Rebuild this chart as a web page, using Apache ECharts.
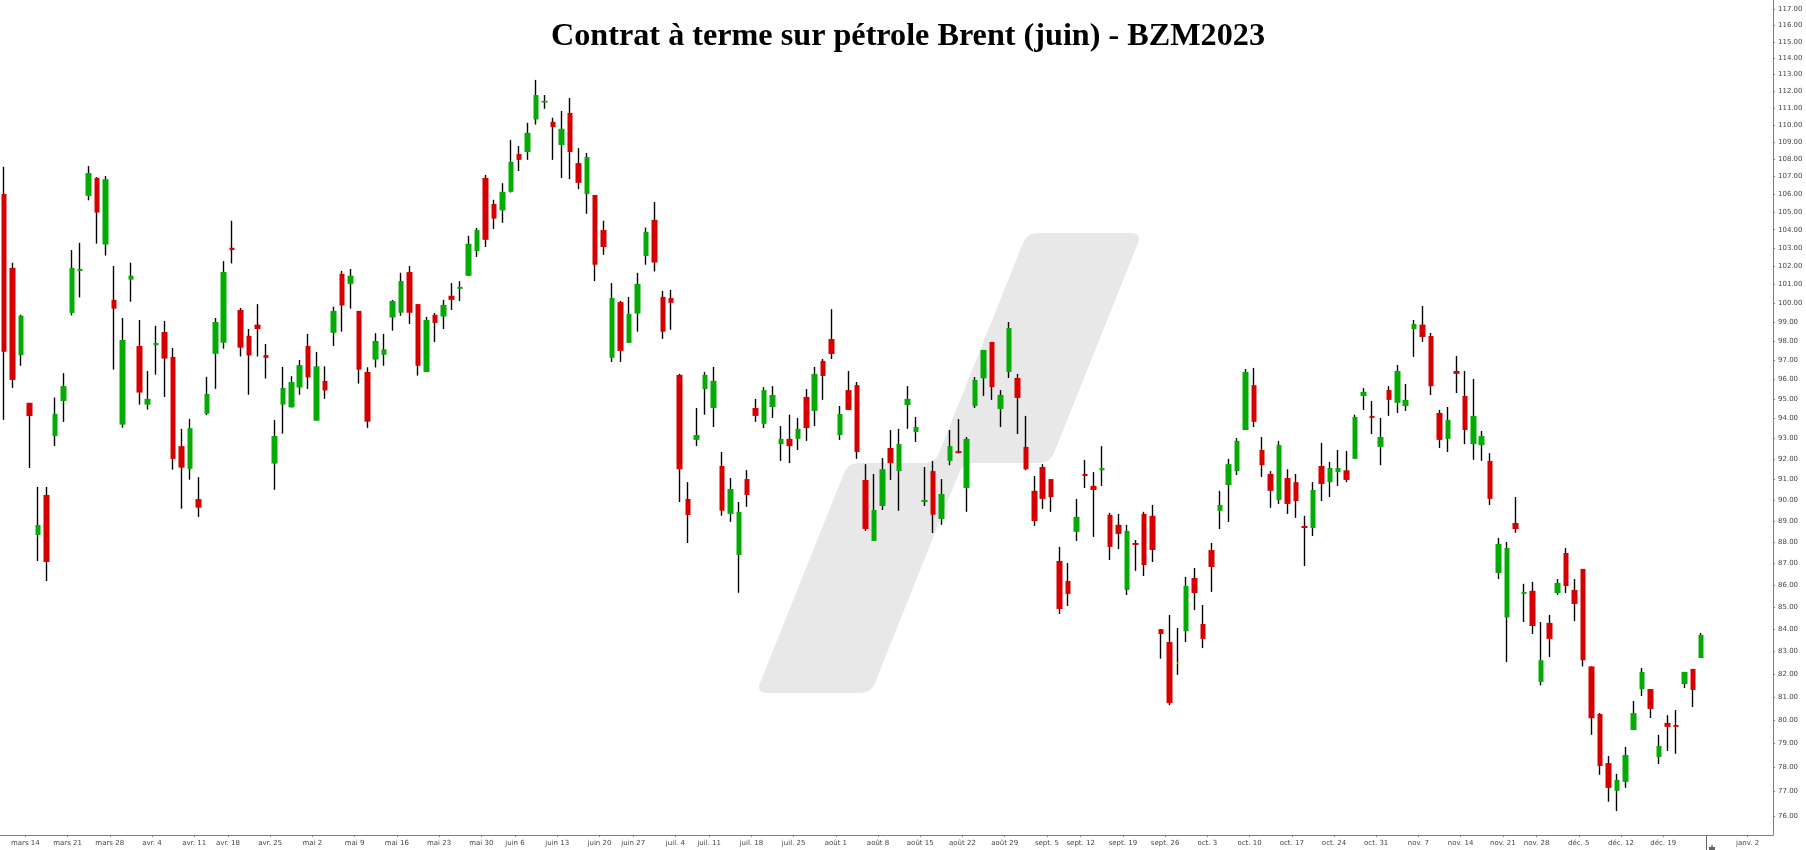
<!DOCTYPE html>
<html>
<head>
<meta charset="utf-8">
<style>html,body{margin:0;padding:0;background:#fff}#c{width:1806px;height:850px}</style>
<script src="https://cdn.jsdelivr.net/npm/echarts@6/dist/echarts.min.js"></script>
</head>
<body>
<div id="c"></div>
<script>
const titleText = 'Contrat à terme sur pétrole Brent (juin) - BZM2023';
const bandCount = 210;
const tickIndexes = [3,8,13,18,23,27,32,37,42,47,52,57,61,66,71,75,80,84,89,94,99,104,109,114,119,124,128,133,138,143,148,153,158,163,168,173,178,182,187,192,197,207];
const tickLabels = ['mars 14','mars 21','mars 28','avr. 4','avr. 11','avr. 18','avr. 25','mai 2','mai 9','mai 16','mai 23','mai 30','juin 6','juin 13','juin 20','juin 27','juil. 4','juil. 11','juil. 18','juil. 25','août 1','août 8','août 15','août 22','août 29','sept. 5','sept. 12','sept. 19','sept. 26','oct. 3','oct. 10','oct. 17','oct. 24','oct. 31','nov. 7','nov. 14','nov. 21','nov. 28','déc. 5','déc. 12','déc. 19','janv. 2'];
const priceTicks = [76,77,78,79,80,81,82,83,84,85,86,87,88,89,90,91,92,93,94,95,96,97,98,99,100,101,102,103,104,105,106,107,108,109,110,111,112,113,114,115,116,117];
const opens = [106.01,101.9,97.25,94.8,88.33,90.24,93.13,94.89,99.47,101.73,
105.9,106.92,103.18,100.17,93.7,101.26,97.73,94.71,97.77,98.46,
97.16,92.63,91.51,90.04,94.25,97.32,97.9,103,99.63,98.26,
98.85,97.25,91.77,94.71,94.57,95.58,97.73,93.9,95.92,98.42,
101.57,101.03,99.58,96.38,97.02,97.27,99.23,99.48,101.67,99.94,
96.38,99.37,99.28,100.39,100.76,101.47,102.82,106.92,105.44,105.08,
106.13,108.3,108.41,110.32,111.32,110.18,108.82,110.7,107.77,106.01,
105.95,103.98,97.11,100.05,97.89,99.44,102.55,104.55,100.33,100.27,
96.23,90.05,92.94,95.5,94.54,91.65,89.33,87.39,91.01,94.54,
93.74,94.59,92.73,92.99,92.99,95.1,94.39,96.95,98.09,93.18,
95.45,95.7,90.97,88.05,89.71,92.54,91.4,94.69,93.33,89.9,
91.4,89.09,91.9,92.38,90.58,94.64,96.05,97.94,94.49,96.38,
96.07,92.59,90.44,91.6,91.01,87.11,86.18,88.48,91.26,90.68,
91.44,89.29,88.81,85.77,87.95,89.33,89.24,83.99,83.41,82.5,
83.9,86.32,84.22,87.62,89.48,90.72,91.4,93.43,95.7,92.44,
91.26,90,91.06,90.86,88.76,88.66,91.65,90.86,91.35,91.44,
92,95.15,94.14,92.59,95.45,94.8,94.64,98.62,98.85,98.25,
94.29,92.99,96.43,95.15,92.73,92.68,91.9,86.55,84.52,88.9,
85.59,85.73,81.65,84.27,85.63,87.48,85.77,86.74,82.33,80.26,
78.18,77.03,77.4,79.58,81.34,81.34,78.44,79.88,79.79,81.56,82.22,82.7];
const closes = [97.42,95.97,99.32,94.13,88.8,87.06,94.24,95.65,101.9,101.84,
107.2,104.96,106.85,99.7,98.04,101.47,95.32,95,97.88,97.07,
92,91.57,93.52,89.63,95.25,98.99,101.67,102.87,97.64,97.23,
98.62,97.11,93.13,95.56,95.86,96.73,96.1,96.67,95.43,99.58,
99.87,101.47,96.5,93.85,97.99,97.55,100.11,101.18,99.48,96.7,
99.1,98.94,99.9,100.17,100.87,103.22,103.98,103.44,104.62,106.13,
107.84,107.96,109.53,111.77,111.42,109.87,109.77,108.41,106.64,108.12,
102.07,103.04,100.27,97.47,99.42,101.03,103.88,102.19,98.48,100.01,
91.49,89.28,93.18,96.23,95.92,89.48,90.53,89.43,90.24,94.14,
95.45,95.2,92.99,92.63,93.49,93.53,96.28,96.17,97.31,94.24,
94.44,92.34,88.61,89.52,91.49,91.79,92.73,95,93.58,90,
89.29,90.29,92.63,92.28,92.99,95.97,97.52,95.6,95.2,98.67,
95.05,91.49,88.99,90.05,90.14,84.9,85.59,89.19,91.16,90.48,
91.55,87.77,88.38,88.52,87.86,86.92,87.62,83.77,80.73,82.46,
85.95,85.63,83.55,86.83,89.76,91.74,92.89,96.38,93.84,91.69,
90.44,92.68,89.81,89.95,88.66,90.48,90.77,91.55,91.55,90.97,
94.09,95.35,94.04,93.08,94.95,96.43,94.95,98.88,98.2,95.65,
92.94,93.94,96.28,93.43,94.14,93.13,90.05,87.91,87.72,88.61,
85.68,84.13,82.6,83.55,86.09,85.95,85.13,82.6,80.08,78.06,
77.15,77.48,78.52,80.3,82.09,80.48,78.9,79.71,79.71,82.09,81.3,83.73];
const lows = [93.94,95.56,96.7,91.55,87.11,86.18,92.63,93.84,99.34,100.3,
105.65,103.23,102.57,96.5,93.54,100.07,94.71,94.46,96.24,95.1,
91.47,89.58,90.98,89.19,94.18,95.51,97.59,102.14,97.18,95.21,
97.18,96.04,90.49,93.25,94.57,95.21,95.51,93.9,95,97.73,
98.48,99.7,95.78,93.54,96.61,96.7,98.53,99.32,98.88,96.19,
96.38,97.93,98.62,99.63,100.11,101.47,102.5,103.04,104.04,104.38,
106.09,107.32,107.96,110.02,110.95,107.96,106.92,106.85,106.28,104.89,
101.18,102.61,96.9,96.9,97.89,98.48,102.07,101.7,98.1,98.58,
89.9,87.95,92.63,94.2,93.58,89.24,88.95,85.64,89.67,93.84,
93.53,94.04,91.9,91.79,92.44,92.89,93.63,94.95,97.05,92.94,
94.44,92,88.52,88.05,89.52,90.97,89.48,93.49,92.84,89.71,
88.42,88.81,91.69,92.28,89.43,94.54,95.15,94.95,93.58,96.07,
93.23,91.44,88.76,89.57,89.43,84.67,85.04,88.05,90.58,88.24,
90.68,87.15,87.67,85.54,86.65,86.41,87.06,82.67,80.64,81.96,
83.41,84.85,83.14,85.68,88.61,88.95,91.21,93.43,93.58,91.11,
89.62,89.81,89.33,89.14,86.87,88.28,89.95,90.14,90.68,90.86,
92,94.44,93.23,91.69,94.14,94.29,94.39,97.16,97.94,95.2,
92.54,92.34,95.3,92.73,91.95,91.9,89.76,86.27,82.52,88.43,
84.31,83.77,81.5,82.75,85.54,85.63,84.35,82.33,79.37,77.69,
76.58,76.2,77.15,79.58,81.04,80.09,78.14,78.69,78.57,81.39,80.56,82.7];
const highs = [107.56,102.18,99.37,94.8,90.63,90.63,95.07,96.32,102.87,103.27,
107.6,106.97,107.03,102,99.2,102.18,99.1,96.43,98.79,99.05,
97.62,93.49,93.99,91.1,96.13,99.2,102.27,104.5,99.74,98.62,
99.94,97.83,93.94,96.64,96.16,97,98.36,97.42,96.67,99.8,
101.73,101.84,99.58,96.62,98.4,98.36,100.17,101.63,102,99.94,
99.26,99.47,100.17,101.07,101.18,103.66,104.1,107.09,105.68,106.62,
109.12,108.76,110.12,112.68,111.77,110.42,110.82,111.6,108.64,108.36,
105.95,104.5,101.07,100.11,100.33,101.63,104.12,105.56,100.65,100.71,
96.28,90.86,94.54,96.38,96.64,92.34,91.06,89.9,91.45,95,
95.6,95.65,93.63,94.2,94.04,95.5,96.64,97.05,99.67,94.64,
96.43,95.86,91.74,91.26,92.04,93.43,93.49,95.65,94.09,91.6,
91.9,91.01,93.43,93.98,93.08,96.12,97.52,97.94,95.45,98.99,
96.28,94.14,91.16,91.74,91.01,87.77,87.01,90.05,91.95,91.35,
92.63,89.38,89.33,88.81,88.09,89.43,89.76,83.99,84.63,84.04,
86.37,86.78,85.08,87.95,90.44,92,93.03,96.53,96.59,93.08,
91.4,92.89,91.49,91.26,89.24,90.86,92.79,91.85,92.44,92.39,
94.2,95.55,94.9,94.04,95.65,96.74,95.76,99.1,99.84,98.41,
94.44,94.59,97.21,96.43,96.02,93.38,92.28,88.19,88,90.14,
86.05,86.14,84.31,84.63,86.27,87.72,86.27,86.74,82.33,80.3,
78.48,77.73,78.86,80.82,82.26,81.34,79.37,80.21,80.43,82.09,82.22,83.82];
const flatDays = [139];

const GREEN = '#05ab05', RED = '#d60000', YELLOW = '#f5ee00', AXIS = '#808080', TEXT = '#444444', MARK = '#e8e8e8';
const bands = Array.from({length: bandCount}, (_, i) => String(i));
const boundaries = Array.from({length: bandCount + 1}, (_, i) => {
  const k = tickIndexes.indexOf(i);
  return k >= 0 ? tickLabels[k] : '';
});
const wickData = opens.map((o, i) => [o, closes[i], lows[i], highs[i]]);
const bodyData = opens.map((o, i) => {
  const c = closes[i];
  const value = [o, c, Math.min(o, c), Math.max(o, c)];
  return flatDays.includes(i)
    ? {value, itemStyle: {color: YELLOW, color0: YELLOW, borderColor: YELLOW, borderColor0: YELLOW}}
    : value;
});
// Background logo outline: corners are rounded by sampling a quadratic curve at each one.
const logoCorners = [[1027,233],[1142,233],[1050,463],[963,463],[871,693],[756,693],[848,463],[935,463]];
function roundCorners(pts, r) {
  const out = [];
  pts.forEach((p, i) => {
    const a = pts[(i + pts.length - 1) % pts.length], b = pts[(i + 1) % pts.length];
    const da = Math.hypot(a[0] - p[0], a[1] - p[1]), db = Math.hypot(b[0] - p[0], b[1] - p[1]);
    const s = [p[0] + (a[0] - p[0]) * r / da, p[1] + (a[1] - p[1]) * r / da];
    const e = [p[0] + (b[0] - p[0]) * r / db, p[1] + (b[1] - p[1]) * r / db];
    for (let t = 0; t <= 1.001; t += 0.125) {
      const u = 1 - t;
      out.push([u * u * s[0] + 2 * u * t * p[0] + t * t * e[0], u * u * s[1] + 2 * u * t * p[1] + t * t * e[1]]);
    }
  });
  return out;
}
const hasTick = (i, v) => v !== '';

const chart = echarts.init(document.getElementById('c'));
chart.setOption({
  animation: false,
  backgroundColor: '#fff',
  title: {
    text: titleText, left: 903, top: 16, textAlign: 'center',
    textStyle: {fontFamily: '"Liberation Serif"', fontWeight: 'bold', fontSize: 32.2, color: '#000'}
  },
  grid: {left: -1, width: 1774, top: 0, height: 835},
  xAxis: [
    {type: 'category', data: bands, show: false},
    {
      type: 'category', data: boundaries, boundaryGap: false, position: 'bottom',
      axisLine: {lineStyle: {color: AXIS, width: 1}},
      axisTick: {length: 2, interval: hasTick, lineStyle: {color: AXIS}},
      axisLabel: {interval: hasTick, margin: 5, fontFamily: '"DejaVu Sans"', fontSize: 7, color: TEXT, hideOverlap: false}
    }
  ],
  yAxis: {
    type: 'log', logBase: 10, position: 'right', min: 75.23, max: 117.6,
    splitLine: {show: false}, minorTick: {show: false},
    axisLine: {show: true, lineStyle: {color: AXIS, width: 1}},
    axisTick: {show: true, length: 2, customValues: priceTicks, lineStyle: {color: AXIS}},
    axisLabel: {
      customValues: priceTicks, margin: 5, fontFamily: '"DejaVu Sans"', fontSize: 7, color: TEXT,
      formatter: v => Number(v).toFixed(2)
    }
  },
  graphic: {elements: [
    {type: 'polygon', z: 0, silent: true, shape: {points: roundCorners(logoCorners, 11)}, style: {fill: MARK}},
    {type: 'line', z: 3, silent: true, shape: {x1: 1706.5, y1: 835, x2: 1706.5, y2: 850}, style: {stroke: '#666', lineWidth: 1}},
    {type: 'polygon', z: 3, silent: true, shape: {points: [[1709,850],[1709,847],[1711,847],[1712,844],[1713,847],[1715,847],[1715,850]]}, style: {fill: '#666'}}
  ]},
  series: [
    {
      type: 'candlestick', name: 'Mèches', xAxisIndex: 0, z: 2, barWidth: 1, data: wickData,
      itemStyle: {color: '#000', color0: '#000', borderColor: '#000', borderColor0: '#000', borderColorDoji: '#000', borderWidth: 1.4}
    },
    {
      type: 'candlestick', name: 'BZM2023', xAxisIndex: 0, z: 3, barWidth: 6, data: bodyData,
      itemStyle: {color: GREEN, color0: RED, borderColor: GREEN, borderColor0: RED, borderColorDoji: RED, borderWidth: 0}
    }
  ]
});
</script>
</body>
</html>
